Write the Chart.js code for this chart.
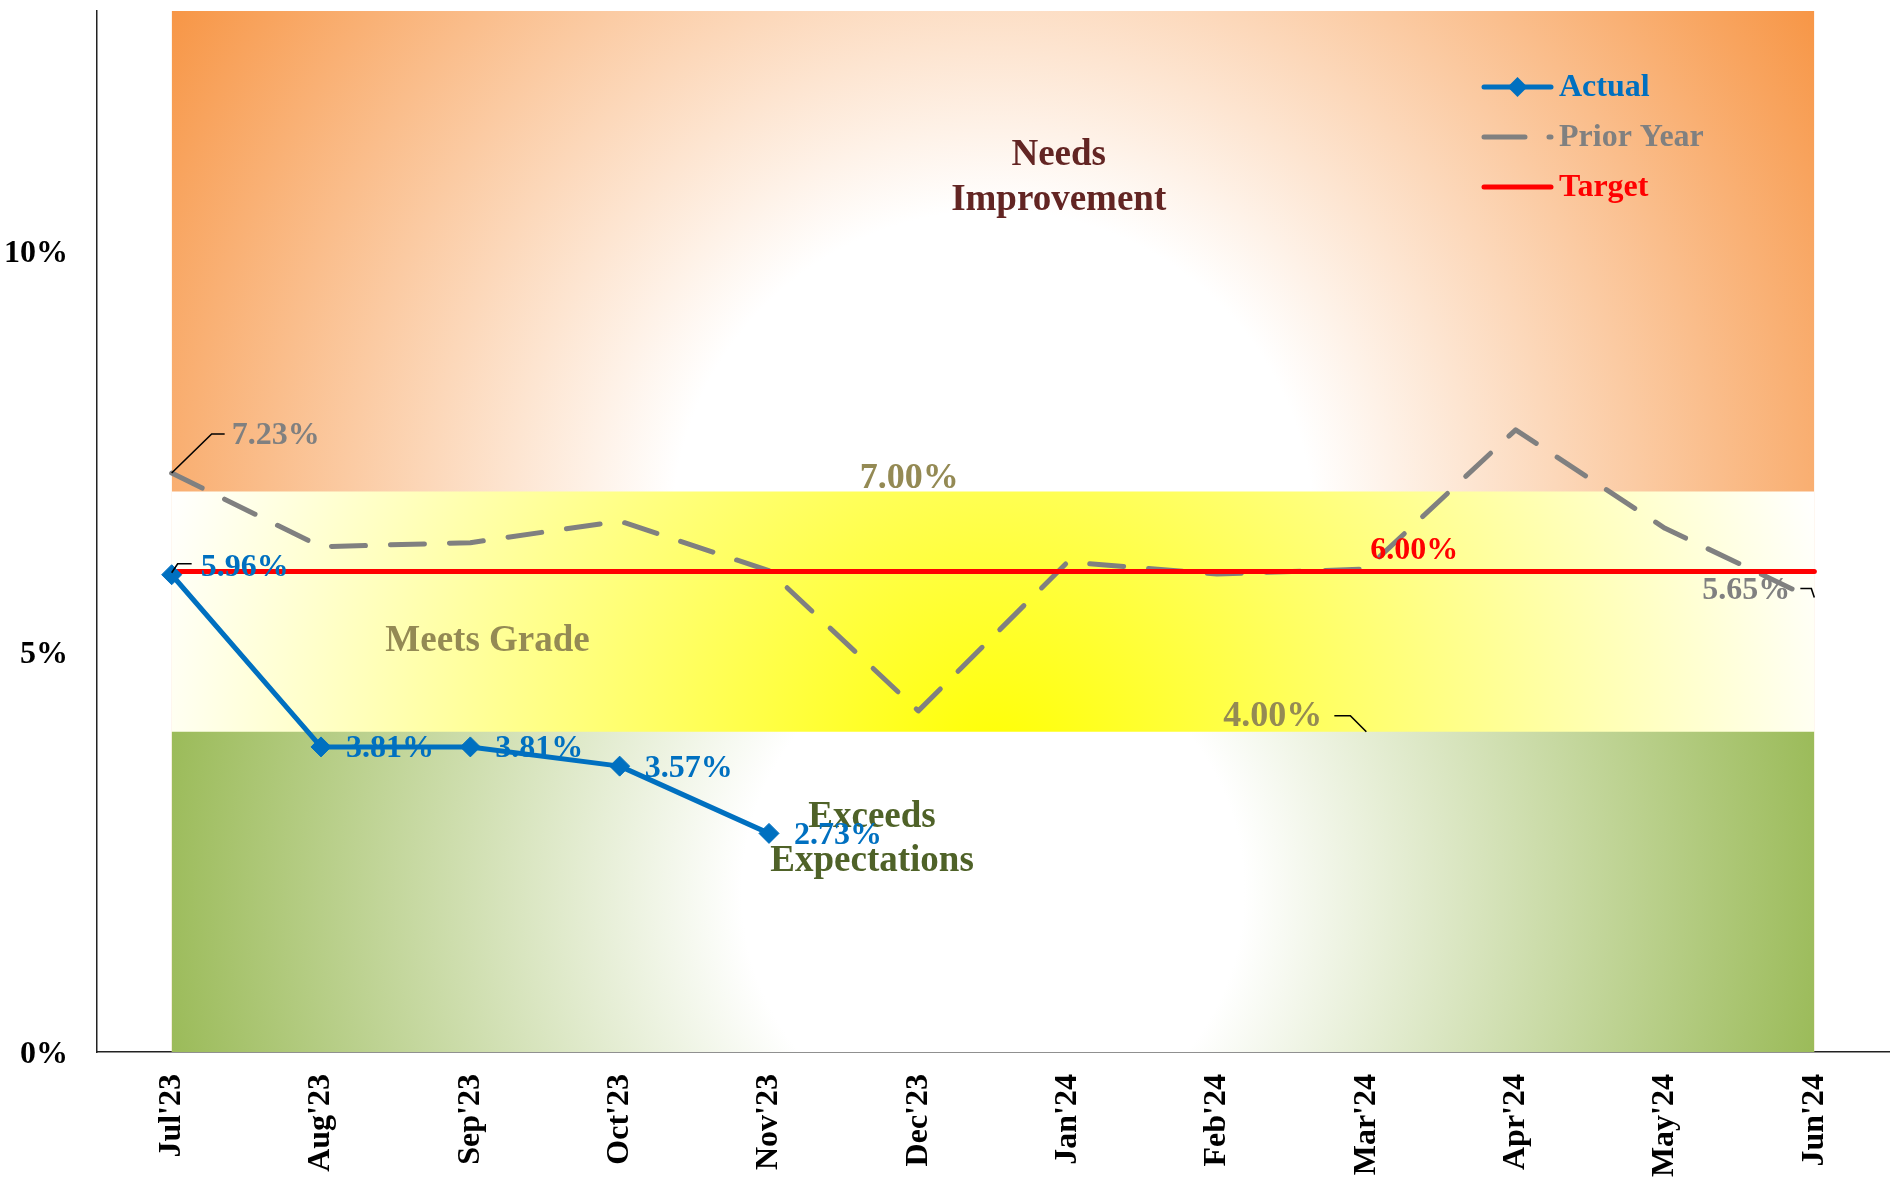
<!DOCTYPE html>
<html>
<head>
<meta charset="utf-8">
<script src="https://cdn.jsdelivr.net/npm/chart.js@4.4.1/dist/chart.umd.min.js"></script>
<style>
html,body{margin:0;padding:0;background:#ffffff;overflow:hidden}
canvas{display:block}
</style>
</head>
<body>
<canvas id="c" width="1901" height="1181" style="width:1901px;height:1181px"></canvas>
<script>
// ---------- data ----------
const categories = ["Jul'23","Aug'23","Sep'23","Oct'23","Nov'23","Dec'23","Jan'24","Feb'24","Mar'24","Apr'24","May'24","Jun'24"];
const actualValues = [5.96, 3.81, 3.81, 3.57, 2.73, null, null, null, null, null, null, null];
const priorYearValues = [7.23, 6.31, 6.36, 6.63, 6.01, 4.26, 6.12, 5.97, 6.03, 7.77, 6.54, 5.65];
const targetValues = [6, 6, 6, 6, 6, 6, 6, 6, 6, 6, 6, 6];
const exceedsZoneTop = [4, 4, 4, 4, 4, 4, 4, 4, 4, 4, 4, 4];
const meetsZoneTop = [7, 7, 7, 7, 7, 7, 7, 7, 7, 7, 7, 7];
const needsZoneTop = [13, 13, 13, 13, 13, 13, 13, 13, 13, 13, 13, 13];
const yTickValues = [0, 5, 10];
const seriesNames = ["Actual", "Prior Year", "Target"];
const zoneNames = [["Needs", "Improvement"], ["Meets Grade"], ["Exceeds", "Expectations"]];

// ---------- styling ----------
const FONT = "'Liberation Serif', 'Times New Roman', serif";
Chart.defaults.font.family = FONT;

function radialZone(chart, topValue, stops) {
  const sx = chart.scales.x, sy = chart.scales.y;
  if (!sx || !sy || !chart.chartArea) return 'rgba(0,0,0,0)';
  const x0 = sx.getPixelForValue(0), x1 = sx.getPixelForValue(categories.length - 1);
  const y0 = sy.getPixelForValue(0), y1 = sy.getPixelForValue(topValue);
  const cx = (x0 + x1) / 2, cy = (y0 + y1) / 2;
  const r = Math.hypot((x1 - x0) / 2, (y0 - y1) / 2);
  const g = chart.ctx.createRadialGradient(cx, cy, 0, cx, cy, r);
  stops.forEach(s => g.addColorStop(s[0], s[1]));
  return g;
}

const zonePlugin = {
  id: 'zoneText',
  afterDatasetsDraw(chart, args, opts) {
    const ctx = chart.ctx, sx = chart.scales.x, sy = chart.scales.y;
    ctx.save();
    ctx.textAlign = 'center';
    ctx.textBaseline = 'middle';
    ctx.font = 'bold 37px ' + FONT;
    opts.items.forEach((it, k) => {
      ctx.fillStyle = it.color;
      const x = sx.getPixelForValue(it.x);
      zoneNames[k].forEach((line, j) => ctx.fillText(line, x, sy.getPixelForValue(it.y[j]) + 3));
    });
    ctx.restore();
  }
};

const valueLabelPlugin = {
  id: 'valueLabels',
  afterDatasetsDraw(chart, args, opts) {
    const ctx = chart.ctx;
    opts.items.forEach(it => {
      const pt = chart.getDatasetMeta(it.ds).data[it.i];
      const v = chart.data.datasets[it.ds].data[it.i];
      if (!pt || v == null) return;
      const x = pt.x, y = pt.y;
      ctx.save();
      if (it.leader) {
        ctx.strokeStyle = '#000';
        ctx.lineWidth = 1.6;
        ctx.beginPath();
        it.leader.forEach((p, k) => k ? ctx.lineTo(x + p[0], y + p[1]) : ctx.moveTo(x + p[0], y + p[1]));
        ctx.stroke();
      }
      ctx.font = 'bold ' + (it.size || 32) + 'px ' + FONT;
      ctx.fillStyle = it.color;
      ctx.textAlign = it.align || 'left';
      ctx.textBaseline = 'middle';
      ctx.fillText(v.toFixed(2) + '%', x + it.dx, y + it.dy);
      ctx.restore();
    });
  }
};

const legendPlugin = {
  id: 'innerLegend',
  afterDraw(chart, args, opts) {
    const ctx = chart.ctx;
    ctx.save();
    ctx.font = 'bold 32px ' + FONT;
    ctx.textBaseline = 'middle';
    ctx.textAlign = 'left';
    seriesNames.forEach((name, k) => {
      const ds = chart.data.datasets[k];
      const y = opts.y + k * opts.rowGap;
      const xa = opts.x, xb = opts.x + opts.lineLen;
      ctx.strokeStyle = ds.borderColor;
      ctx.lineWidth = ds.borderWidth;
      ctx.lineCap = 'round';
      ctx.setLineDash(ds.borderDash ? [41, 24] : []);
      ctx.beginPath();
      ctx.moveTo(xa, y);
      ctx.lineTo(xb, y);
      ctx.stroke();
      ctx.setLineDash([]);
      if (ds.pointRadius > 0) {
        const r = 10;
        const cx = (xa + xb) / 2;
        ctx.fillStyle = ds.borderColor;
        ctx.beginPath();
        ctx.moveTo(cx, y - r); ctx.lineTo(cx + r, y); ctx.lineTo(cx, y + r); ctx.lineTo(cx - r, y);
        ctx.closePath();
        ctx.fill();
      }
      ctx.fillStyle = ds.borderColor;
      ctx.fillText(name, xb + 8, y + 1);
    });
    ctx.restore();
  }
};

new Chart(document.getElementById('c'), {
  type: 'line',
  data: {
    labels: categories,
    datasets: [
      {
        label: seriesNames[0], data: actualValues, order: 0,
        borderColor: '#0070C0', backgroundColor: '#0070C0', borderWidth: 5,
        pointStyle: 'rectRot', pointRadius: 10, pointHoverRadius: 10,
        pointBackgroundColor: '#0070C0', pointBorderColor: '#0070C0', pointBorderWidth: 1,
        fill: false, tension: 0, spanGaps: false, borderJoinStyle: 'round'
      },
      {
        label: seriesNames[1], data: priorYearValues, order: 2,
        borderColor: '#808080', borderWidth: 5, borderDash: [34, 25], borderCapStyle: 'round',
        borderJoinStyle: 'round', pointRadius: 0, pointHoverRadius: 0, fill: false, tension: 0
      },
      {
        label: seriesNames[2], data: targetValues, order: 1,
        borderColor: '#FF0000', borderWidth: 5, borderCapStyle: 'round',
        pointRadius: 0, pointHoverRadius: 0, fill: false, tension: 0
      },
      {
        label: 'Exceeds', data: exceedsZoneTop, order: 3,
        borderWidth: 0, borderColor: 'rgba(0,0,0,0)', pointRadius: 0, pointHoverRadius: 0,
        fill: 'origin',
        backgroundColor: c => radialZone(c.chart, 4, [[0, '#FFFFFF'], [0.3, '#FFFFFF'], [1, '#9BBB59']])
      },
      {
        label: 'Meets', data: meetsZoneTop, order: 4,
        borderWidth: 0, borderColor: 'rgba(0,0,0,0)', pointRadius: 0, pointHoverRadius: 0,
        fill: 'origin',
        backgroundColor: c => radialZone(c.chart, 7, [[0, '#FFFF00'], [1, '#FFFFFF']])
      },
      {
        label: 'Needs', data: needsZoneTop, order: 5,
        borderWidth: 0, borderColor: 'rgba(0,0,0,0)', pointRadius: 0, pointHoverRadius: 0,
        fill: 'origin',
        backgroundColor: c => radialZone(c.chart, 13, [[0, '#FFFFFF'], [0.33, '#FFFFFF'], [1, '#F79646']])
      }
    ]
  },
  options: {
    responsive: false,
    devicePixelRatio: 1,
    animation: false,
    events: [],
    layout: { padding: { top: 9, right: 12, left: 0, bottom: 0 } },
    scales: {
      x: {
        type: 'category',
        offset: true,
        grid: { display: false, drawTicks: false },
        border: { display: true, color: '#222', width: 1.5 },
        ticks: {
          autoSkip: false, maxRotation: 90, minRotation: 90, padding: 22,
          color: '#000', font: { size: 32, weight: 'bold', family: FONT }
        },
        afterFit: s => { s.height = 129; s.paddingLeft = 0; s.paddingRight = 0; }
      },
      y: {
        min: 0, max: 13,
        grid: { display: false, drawTicks: false },
        border: { display: true, color: '#222', width: 1.5 },
        afterBuildTicks: s => { s.ticks = yTickValues.map(v => ({ value: v })); },
        ticks: {
          padding: 29, color: '#000', labelOffset: 3,
          font: { size: 32, weight: 'bold', family: FONT },
          callback: v => v + '%'
        },
        afterFit: s => { s.width = 97; s.paddingTop = 0; s.paddingBottom = 0; }
      }
    },
    plugins: {
      legend: { display: false },
      tooltip: { enabled: false },
      zoneText: {
        items: [
          { x: 5.94, y: [11.23, 10.67], color: '#632523' },
          { x: 2.115, y: [5.16], color: '#948A54' },
          { x: 4.69, y: [2.97, 2.42], color: '#4F6228' }
        ]
      },
      valueLabels: {
        items: [
          { ds: 0, i: 0, dx: 29, dy: -7, color: '#0070C0', leader: [[0, -2], [6, -11], [20, -11]] },
          { ds: 0, i: 1, dx: 25, dy: 2, color: '#0070C0' },
          { ds: 0, i: 2, dx: 25, dy: 2, color: '#0070C0' },
          { ds: 0, i: 3, dx: 25, dy: 3, color: '#0070C0' },
          { ds: 0, i: 4, dx: 25, dy: 2, color: '#0070C0' },
          { ds: 1, i: 0, dx: 60, dy: -37, color: '#808080', leader: [[0, 0], [40, -39], [53, -39]] },
          { ds: 1, i: 11, dx: -24, dy: -9, align: 'right', color: '#808080', leader: [[-14, -11], [-3, -11], [0, -2]] },
          { ds: 2, i: 8, dx: 4, dy: -21, color: '#FF0000' },
          { ds: 4, i: 5, dx: -9, dy: -13, align: 'center', size: 36, color: '#948A54' },
          { ds: 3, i: 8, dx: -44, dy: -15, align: 'right', size: 36, color: '#948A54', leader: [[-32, -16], [-16, -16], [0, 0]] }
        ]
      },
      innerLegend: { x: 1484, y: 87, rowGap: 50, lineLen: 67 }
    }
  },
  plugins: [zonePlugin, valueLabelPlugin, legendPlugin]
});
</script>
</body>
</html>
